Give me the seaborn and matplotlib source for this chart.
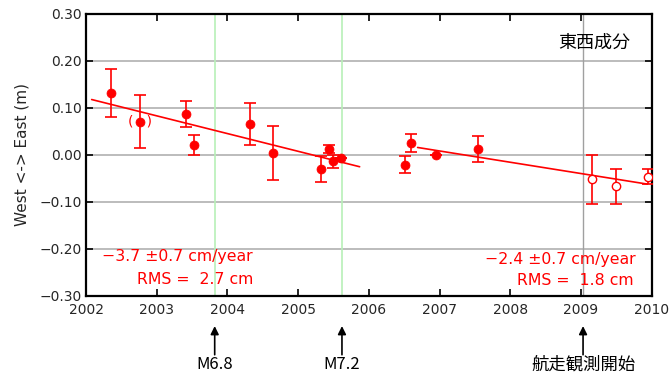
import numpy as np
import pandas as pd
import matplotlib
matplotlib.use("Agg")
import matplotlib.pyplot as plt
import seaborn as sns

# ---- data ----
years_filled = [2002.36, 2002.77, 2003.41, 2003.53, 2004.32, 2004.64, 2005.32, 2005.44,
                2005.49, 2005.60, 2006.51, 2006.59, 2006.95, 2007.55]
east_filled = [0.132, 0.071, 0.087, 0.022, 0.066, 0.004, -0.030, 0.013,
               -0.013, -0.006, -0.021, 0.026, 0.000, 0.013]
err_filled = [0.051, 0.056, 0.028, 0.021, 0.045, 0.057, 0.028, 0.009,
              0.014, 0.0, 0.018, 0.019, 0.0, 0.028]

years_open = [2009.16, 2009.49, 2009.95]
east_open = [-0.052, -0.067, -0.046]
err_open = [0.053, 0.037, 0.016]

fit1_x = [2002.08, 2005.87]
fit1_y = [0.118, -0.025]
fit2_x = [2006.69, 2009.94]
fit2_y = [0.016, -0.062]

quake_years = [2003.82, 2005.62]
quake_labels = ["M6.8", "M7.2"]
survey_year = 2009.03
survey_label = "航走観測開始"

xticks = [2002, 2003, 2004, 2005, 2006, 2007, 2008, 2009, 2010]
yticks = [0.30, 0.20, 0.10, 0.00, -0.10, -0.20, -0.30]
ytick_labels = ["0.30", "0.20", "0.10", "0.00", "\u22120.10", "\u22120.20", "\u22120.30"]

title_text = "東西成分"
ylabel_text = "West <-> East (m)"
rate1_text = "\u22123.7 \u00b10.7 cm/year"
rms1_text = "RMS =  2.7 cm"
rate2_text = "\u22122.4 \u00b10.7 cm/year"
rms2_text = "RMS =  1.8 cm"

# ---- style ----
sns.set_theme(style="white")
plt.rcParams['font.family'] = ['Noto Sans CJK JP', 'DejaVu Sans']

fig = plt.figure(figsize=(6.72, 3.76), dpi=100)
ax = fig.add_axes([0.128, 0.2128, 0.8417, 0.75])

red = "#ff0000"

# grid lines
for yv in [0.2, 0.1, 0.0, -0.1, -0.2]:
    ax.axhline(yv, color="#b0b0b0", lw=1.2, zorder=0)
for q in quake_years:
    ax.axvline(q, color="#b8f0b8", lw=1.2, zorder=0)
ax.axvline(survey_year, color="#a0a0a0", lw=1.0, zorder=0)

# fit lines
sns.lineplot(x=fit1_x, y=fit1_y, ax=ax, color=red, lw=1.2, zorder=2)
sns.lineplot(x=fit2_x, y=fit2_y, ax=ax, color=red, lw=1.2, zorder=2)

# error bars
ax.errorbar(years_filled, east_filled, yerr=err_filled, fmt="none", ecolor=red,
            elinewidth=1.2, capsize=4, capthick=1.2, zorder=3)
ax.errorbar(years_open, east_open, yerr=err_open, fmt="none", ecolor=red,
            elinewidth=1.2, capsize=4, capthick=1.2, zorder=3)

# points
df_f = pd.DataFrame({"year": years_filled, "east": east_filled})
df_o = pd.DataFrame({"year": years_open, "east": east_open})
sns.scatterplot(data=df_f, x="year", y="east", ax=ax, color=red, s=42,
                edgecolor=red, linewidth=0.5, zorder=4)
sns.scatterplot(data=df_o, x="year", y="east", ax=ax, facecolor="white", s=36,
                edgecolor=red, linewidth=1.0, zorder=4)

# parentheses around the second point
ax.text(years_filled[1], east_filled[1], "(   )", color=red, fontsize=10,
        ha="center", va="center", zorder=5, family=['DejaVu Sans'])

ax.set_xlim(2002, 2010)
ax.set_ylim(-0.30, 0.30)
ax.set_xticks(xticks)
ax.set_xticklabels([str(x) for x in xticks], fontsize=10, family=['DejaVu Sans'])
ax.set_yticks(yticks)
ax.set_yticklabels(ytick_labels, fontsize=10, family=['DejaVu Sans'])
ax.tick_params(axis="both", direction="in", length=5, width=1.2, color="black",
               top=True, right=True, bottom=True, left=True, pad=5)
ax.tick_params(axis="y", pad=3)
ax.set_xlabel("")
ax.set_ylabel(ylabel_text, fontsize=11, family=['DejaVu Sans'], labelpad=7)
for sp in ax.spines.values():
    sp.set_color("black")
    sp.set_linewidth(1.6)

# text annotations
ax.text(0.962, 0.897, title_text, transform=ax.transAxes, fontsize=13,
        ha="right", va="center", color="black")
ax.text(2002.22, -0.217, rate1_text, color=red, fontsize=11.3, ha="left", va="center",
        family=['DejaVu Sans'])
ax.text(2004.37, -0.264, rms1_text, color=red, fontsize=11.3, ha="right", va="center",
        family=['DejaVu Sans'])
ax.text(2009.77, -0.222, rate2_text, color=red, fontsize=11.3, ha="right", va="center",
        family=['DejaVu Sans'])
ax.text(2009.74, -0.268, rms2_text, color=red, fontsize=11.3, ha="right", va="center",
        family=['DejaVu Sans'])

# event arrows below axis
events_x = quake_years + [survey_year]
events_lab = quake_labels + [survey_label]
events_fs = [12, 12, 12.5]
for ex, lab, fs in zip(events_x, events_lab, events_fs):
    ax.annotate("", xy=(ex, -0.364), xycoords=("data", "data"),
                xytext=(ex, -0.425), textcoords=("data", "data"),
                arrowprops=dict(arrowstyle="-|>", color="black", lw=1.2,
                                mutation_scale=12, shrinkA=0, shrinkB=0),
                annotation_clip=False)
    ax.text(ex, -0.445, lab, ha="center", va="center", fontsize=fs,
            color="black", clip_on=False)

fig.savefig("out.png", dpi=100)
